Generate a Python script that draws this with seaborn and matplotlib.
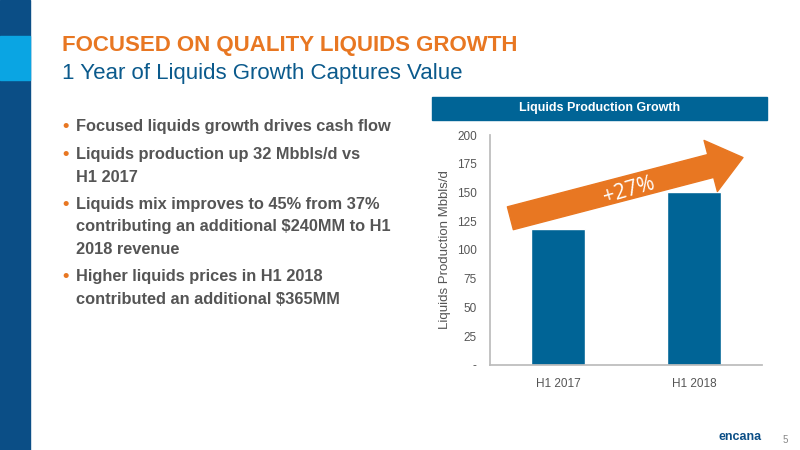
import matplotlib
matplotlib.use("Agg")
import matplotlib.pyplot as plt
import seaborn as sns
import pandas as pd
from matplotlib.patches import Rectangle, FancyArrowPatch

periods = ["H1 2017", "H1 2018"]
production = [118, 150]
yticks = [0, 25, 50, 75, 100, 125, 150, 175, 200]
ytick_labels = ["-", "25", "50", "75", "100", "125", "150", "175", "200"]
bullets = [
    ["Focused liquids growth drives cash flow"],
    ["Liquids production up 32 Mbbls/d vs", "H1 2017"],
    ["Liquids mix improves to 45% from 37%", "contributing an additional $240MM to H1", "2018 revenue"],
    ["Higher liquids prices in H1 2018", "contributed an additional $365MM"],
]

sns.set_theme(style="white")
plt.rcParams["font.family"] = ["Liberation Sans", "DejaVu Sans"]

blue = "#006496"
orange = "#E87722"
fig = plt.figure(figsize=(8, 4.5), dpi=100)

# left decorative strip
fig.patches.append(Rectangle((0, 0), 30 / 800, 1, transform=fig.transFigure, color="#0B4E86", zorder=0))
fig.patches.append(Rectangle((0, 1 - 80 / 450), 30 / 800, 44 / 450, transform=fig.transFigure, color="#0AA5E3", zorder=1))

fig.text(62 / 800, 1 - 45 / 450, "FOCUSED ON QUALITY LIQUIDS GROWTH", color=orange,
         fontsize=16, fontweight="bold", va="center")
fig.text(62 / 800, 1 - 73 / 450, "1 Year of Liquids Growth Captures Value", color="#0B5A8C",
         fontsize=16, va="center")

y = 127
for lines in bullets:
    fig.text(62 / 800, 1 - y / 450, "•", color=orange, fontsize=13, va="center", fontweight="bold")
    for line in lines:
        fig.text(76 / 800, 1 - y / 450, line, color="#555555", fontsize=11.8, va="center",
                 fontweight="bold")
        y += 23
    y += 4

# chart header
fig.patches.append(Rectangle((432 / 800, 1 - 120 / 450), 335 / 800, 23 / 450,
                             transform=fig.transFigure, color=blue))
fig.text(600 / 800, 1 - 108.5 / 450, "Liquids Production Growth", color="white",
         fontsize=9, fontweight="bold", ha="center", va="center")

ax = fig.add_axes([490 / 800, 85 / 450, 272 / 800, 230 / 450])
df = pd.DataFrame({"period": periods, "production": production})
sns.barplot(data=df, x="period", y="production", color=blue, saturation=1, width=0.4, ax=ax)
ax.set_ylim(0, 200)
ax.set_xlim(-0.5, 1.5)
ax.set_yticks(yticks)
ax.set_yticklabels(ytick_labels)
ax.set_xlabel("")
ax.set_ylabel("Liquids Production Mbbls/d", color="#555555", fontsize=9.5)
ax.tick_params(colors="#555555", labelsize=8.5)
for s in ["top", "right"]:
    ax.spines[s].set_visible(False)
for s in ["left", "bottom"]:
    ax.spines[s].set_color("#BBBBBB")

arrow = FancyArrowPatch((-0.37, 127), (1.38, 181), arrowstyle="simple,head_width=1.9,head_length=1.2,tail_width=0.85",
                        mutation_scale=20, color=orange, clip_on=False, zorder=5)
ax.add_patch(arrow)
ax.text(0.52, 152, "+27%", color="white", fontsize=15, rotation=16, ha="center", va="center", zorder=6,
        family=["Open Sans", "DejaVu Sans"])

fig.text(740 / 800, 1 - 437 / 450, "encana", color="#0B4E86", fontsize=9, fontweight="bold", ha="center", va="center")
fig.text(785 / 800, 1 - 440 / 450, "5", color="#888888", fontsize=7, ha="center", va="center")

fig.savefig("out.png", dpi=100)
